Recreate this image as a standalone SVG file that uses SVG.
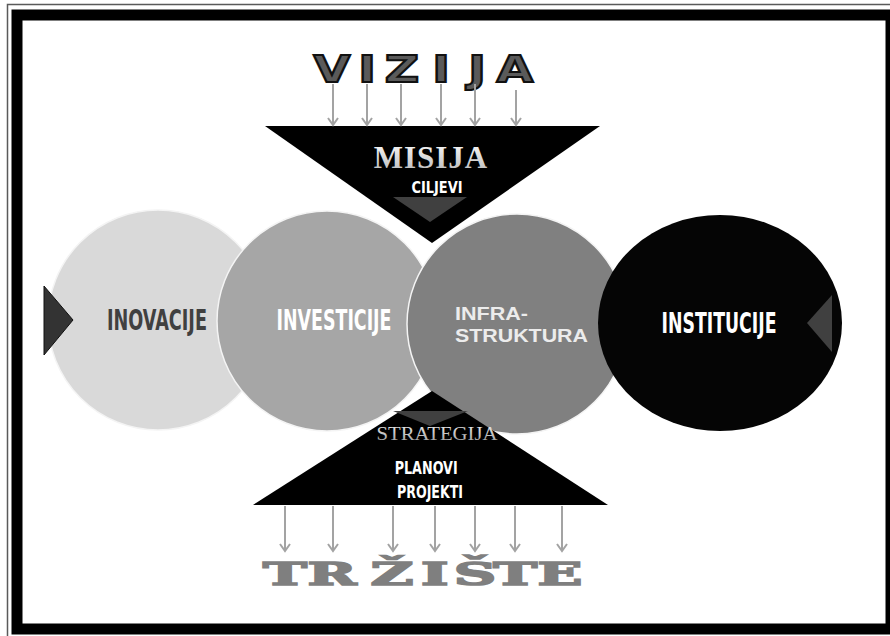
<svg xmlns="http://www.w3.org/2000/svg" width="890" height="636" viewBox="0 0 890 636">
<style>
.cond{font-family:"DejaVu Sans Condensed","DejaVu Sans","Liberation Sans",sans-serif;font-weight:bold;}
.arr{stroke:#a3a3a3;stroke-width:2;fill:none;}
.rim{stroke:#f4f4f4;stroke-width:1.5;}
</style>
<defs>
<marker id="ah" markerWidth="12" markerHeight="12" refX="10" refY="6" orient="auto" markerUnits="userSpaceOnUse" viewBox="0 0 12 12">
<polyline points="3,1 10,6 3,11" fill="none" stroke="#a3a3a3" stroke-width="2"/>
</marker>
<linearGradient id="gMis" x1="0" y1="0" x2="0" y2="1">
<stop offset="0" stop-color="#ffffff"/><stop offset="1" stop-color="#b5b5b5"/>
</linearGradient>
<linearGradient id="gStr" x1="0" y1="0" x2="0" y2="1">
<stop offset="0" stop-color="#f0f0f0"/><stop offset="1" stop-color="#9a9a9a"/>
</linearGradient>
</defs>
<rect x="0" y="0" width="890" height="636" fill="#ffffff"/>
<g id="frame">
<rect x="7.5" y="4.5" width="900" height="650" fill="none" stroke="#5a5a5a" stroke-width="1.5"/>
<rect x="17" y="15" width="874" height="614" fill="#ffffff" stroke="#000000" stroke-width="11"/>
</g>

<g id="inovacije">
<circle cx="158" cy="320" r="110" fill="#d9d9d9" class="rim"/>
<polygon points="44,286 73,320 44,355" fill="#333333" stroke="#111" stroke-width="1"/>
<text x="157" y="330" class="cond" font-size="28" fill="#404040" text-anchor="middle" textLength="100" lengthAdjust="spacingAndGlyphs">INOVACIJE</text>
</g>
<g id="investicije">
<circle cx="327" cy="321" r="110" fill="#a6a6a6" class="rim"/>
<text x="334" y="330" class="cond" font-size="28" fill="#ffffff" text-anchor="middle" textLength="115" lengthAdjust="spacingAndGlyphs">INVESTICIJE</text>
</g>
<g id="infrastruktura">
<circle cx="517" cy="324" r="110" fill="#808080" class="rim"/>
<text font-family="'Liberation Sans',Arial,sans-serif" font-weight="bold" font-size="19" fill="#ececec">
<tspan x="455" y="320" textLength="73" lengthAdjust="spacingAndGlyphs">INFRA-</tspan>
<tspan x="455" y="342" textLength="133" lengthAdjust="spacingAndGlyphs">STRUKTURA</tspan>
</text>
</g>
<g id="institucije">
<ellipse cx="720" cy="323" rx="122" ry="108" fill="#050505"/>
<polygon points="832,295 807,323 832,352" fill="#404040"/>
<text x="719" y="333" class="cond" font-size="28" fill="#ffffff" text-anchor="middle" textLength="115" lengthAdjust="spacingAndGlyphs">INSTITUCIJE</text>
</g>

<g id="misija">
<polygon points="265,126 600,126 432,243" fill="#000000"/>
<polygon points="393,197 467,197 430,222" fill="#404040"/>
<text x="431" y="168" font-family="'Liberation Serif','Times New Roman',serif" font-weight="bold" font-size="31" fill="url(#gMis)" text-anchor="middle" letter-spacing="1">MISIJA</text>
<text x="437" y="193" class="cond" font-size="15" fill="#ffffff" text-anchor="middle" textLength="51" lengthAdjust="spacingAndGlyphs">CILJEVI</text>
</g>

<g id="strategija">
<polygon points="253,505 608,505 432,391" fill="#000000"/>
<polygon points="393,411 468,411 430,426" fill="#404040"/>
<text x="437" y="440" font-family="'Liberation Serif','Times New Roman',serif" font-size="19" fill="url(#gStr)" text-anchor="middle" textLength="121" lengthAdjust="spacingAndGlyphs">STRATEGIJA</text>
<text class="cond" font-size="18" fill="#ffffff" text-anchor="middle">
<tspan x="429" y="474" textLength="63" lengthAdjust="spacingAndGlyphs">PLANOVI</tspan>
<tspan x="430" y="498" textLength="66" lengthAdjust="spacingAndGlyphs">PROJEKTI</tspan>
</text>
</g>

<g id="vizija">
<text transform="scale(1.25,1)" y="82" font-family="'DejaVu Sans','Liberation Sans',sans-serif" font-weight="900" font-size="38" fill="#5a5a5a" stroke="#111111" stroke-width="2" text-anchor="middle" x="265.6 293.6 321.6 352.8 381.6 412">VIZIJA</text>
</g>

<g id="trziste">
<text transform="scale(1.9,1)" y="585" font-family="'DejaVu Serif','Liberation Serif',serif" font-weight="bold" font-size="31" fill="#7f7f7f" stroke="#7f7f7f" stroke-width="1.6" text-anchor="middle" x="150 174.7 206.3 228.9 250 271.1 294.7">TRŽIŠTE</text>
</g>

<g id="connectors">
<line class="arr" x1="333" y1="84" x2="333" y2="125" marker-end="url(#ah)"/>
<line class="arr" x1="367" y1="84" x2="367" y2="125" marker-end="url(#ah)"/>
<line class="arr" x1="401" y1="84" x2="401" y2="125" marker-end="url(#ah)"/>
<line class="arr" x1="441" y1="84" x2="441" y2="125" marker-end="url(#ah)"/>
<line class="arr" x1="475" y1="84" x2="475" y2="125" marker-end="url(#ah)"/>
<line class="arr" x1="516" y1="90" x2="516" y2="125" marker-end="url(#ah)"/>
<line class="arr" x1="285" y1="506" x2="285" y2="551" marker-end="url(#ah)"/>
<line class="arr" x1="333" y1="506" x2="333" y2="551" marker-end="url(#ah)"/>
<line class="arr" x1="393" y1="506" x2="393" y2="551" marker-end="url(#ah)"/>
<line class="arr" x1="435" y1="506" x2="435" y2="551" marker-end="url(#ah)"/>
<line class="arr" x1="475" y1="506" x2="475" y2="551" marker-end="url(#ah)"/>
<line class="arr" x1="515" y1="506" x2="515" y2="551" marker-end="url(#ah)"/>
<line class="arr" x1="562" y1="506" x2="562" y2="551" marker-end="url(#ah)"/>
</g>
</svg>
